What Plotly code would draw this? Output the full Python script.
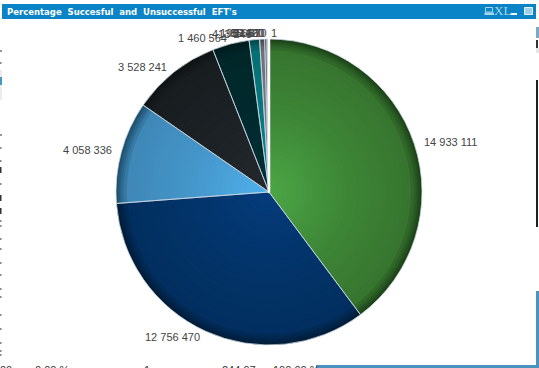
import numpy as np
import plotly.graph_objects as go

W, H = 539, 368
CX, CY, R = 269, 192, 153

title = "Percentage  Succesful  and  Unsuccessful  EFT's"
categories = ["A", "B", "C", "D", "E", "F", "G", "H", "I", "J", "K"]
values = [14933111, 12756470, 4058336, 3528241, 1460564, 413245, 198651, 85420, 52360, 31870, 1]

# per slice colours at pie centre, body and rim
centre_colors = ["#4ca846", "#043c7c", "#50b2ee", "#24292d", "#023038", "#0a8c90", "#8a8a96", "#5a5a62", "#a0a0a8", "#8a7a78", "#ffffff"]
body_colors = ["#37752f", "#022f60", "#3f88b8", "#181e20", "#012729", "#067074", "#70707c", "#4a4a52", "#8c8c94", "#75605c", "#ffffff"]
rim_colors = ["#1c4318", "#011c38", "#1f4f6e", "#0f1314", "#011c1e", "#04484c", "#4a4a52", "#36363c", "#606068", "#503c3a", "#ffffff"]
bottom_texts = [("00", 6), ("0.00 %", 52), ("1", 147), ("244.97", 239), ("100.00 %", 296)]


def rgb(c):
    return np.array([int(c[i:i + 2], 16) for i in (1, 3, 5)], float)


def mix(a, b, t):
    m = rgb(a) * (1 - t) + rgb(b) * t
    return "#%02x%02x%02x" % tuple(int(round(k)) for k in m)


def px_x(x):
    return x / W


def px_y(y):
    return 1 - y / H


def dom(r):
    return dict(x=[px_x(CX - r), px_x(CX + r)], y=[px_y(CY + r), px_y(CY - r)])


fig = go.Figure()
# shaded pie: stacked pies, outer (rim) to inner (centre)
radii = [R, R - 2, R - 4, R - 6, R - 8, R - 11, R - 15] + list(range(R - 20, 0, -5))
for r in radii:
    f = r / R
    if f > 0.93:
        t = (1 - f) / 0.07
        cols = [mix(a, b, t) for a, b in zip(rim_colors, body_colors)]
    elif f > 0.5:
        t = (0.93 - f) / 0.43
        cols = [mix(b, mix(b, c, 0.35), t) for b, c in zip(body_colors, centre_colors)]
    else:
        t = (0.5 - f) / 0.5
        cols = [mix(mix(b, c, 0.35), c, t) for b, c in zip(body_colors, centre_colors)]
    fig.add_trace(go.Pie(labels=categories, values=values, sort=False, direction="clockwise",
                         rotation=0, domain=dom(r), textinfo="none", hoverinfo="skip",
                         marker=dict(colors=cols, line=dict(width=0)), showlegend=False))
# slice separators
widths = [1] * (len(values) - 1) + [2.5]
seps = ["rgba(205,218,228,0.75)"] * (len(values) - 1) + ["#ffffff"]
fig.add_trace(go.Pie(labels=categories, values=values, sort=False, direction="clockwise",
                     rotation=0, domain=dom(R), textinfo="none", hoverinfo="skip",
                     marker=dict(colors=["rgba(0,0,0,0)"] * len(values), line=dict(width=widths, color=seps)),
                     showlegend=False))

ann = []
# slice value labels
v = np.array(values, float)
mid = (np.cumsum(v) - v / 2) / v.sum() * 2 * np.pi
for val, a in zip(values, mid):
    x = CX + (R + 8) * np.sin(a)
    y = CY - (R + 6) * np.cos(a)
    ann.append(dict(x=px_x(x), y=px_y(y), xref="paper", yref="paper", showarrow=False,
                    text=f"{val:,}".replace(",", " "), xanchor="left" if np.sin(a) > 0 or val == 1 else "right",
                    yanchor="middle", font=dict(family="Liberation Sans", size=11, color="#444444")))
# title bar text
ann.append(dict(x=px_x(5), y=px_y(11.5), xref="paper", yref="paper", showarrow=False, text=title,
                xanchor="left", yanchor="middle", xshift=0,
                font=dict(family="DejaVu Sans", size=8.5, color="#ffffff", weight="bold")))
ann.append(dict(x=px_x(502.5), y=px_y(11), xref="paper", yref="paper", showarrow=False, text="XL",
                xanchor="center", yanchor="middle", font=dict(family="Liberation Sans Narrow", size=13, color="#a8d4ec")))
# cropped table row below the object
for txt, x in bottom_texts:
    ann.append(dict(x=px_x(x), y=px_y(362), xref="paper", yref="paper", showarrow=False, text=txt,
                    xanchor="center", yanchor="top", font=dict(family="Liberation Sans", size=11, color="#333333")))


def rect(x0, y0, x1, y1, fill, line=None):
    return dict(type="rect", xref="paper", yref="paper", x0=px_x(x0), x1=px_x(x1), y0=px_y(y1), y1=px_y(y0),
                fillcolor=fill, line=dict(width=1 if line else 0, color=line or fill), layer="below")


shapes = [
    rect(2, 4, 536, 19, "#0a84c6"),
    rect(511, 13, 517, 15, "#ffffff"),
    rect(524.5, 7.5, 532.5, 14.5, "#9fd0ea", "#e8f4fa"),
    rect(485.5, 7.5, 492.5, 12, "#0a84c6", "#a8d4ec"),
    rect(484.5, 12.5, 494, 15, "#a8d4ec"),
    rect(536, 27, 539, 38, "#7ba9c4"),
    rect(536, 40, 538, 48, "#333333"),
    rect(536, 48, 539, 53, "#e6e6e6"),
    rect(536, 80, 538, 227, "#1a1f20"),
    rect(536, 291, 539, 368, "#4a93bf"),
    rect(316, 365, 539, 368, "#4a93bf"),
    rect(0, 70, 2, 100, "#ececec"),
    rect(0, 77, 2, 85, "#4a97c4"),
    rect(0, 50, 2, 52, "#999999"),
    rect(0, 134, 2, 136, "#999999"),
]
for y in (167, 195, 208):
    shapes.append(rect(0, y, 1.5, y + 6, "#333333"))
for y in (62, 147, 160, 183, 220, 225, 238, 248, 262, 274, 288, 296, 314, 328, 342, 350, 354):
    shapes.append(rect(0, y, 1.5, y + 2, "#888888"))

fig.update_layout(width=W, height=H, margin=dict(l=0, r=0, t=0, b=0), autosize=False,
                  paper_bgcolor="#ffffff", plot_bgcolor="#ffffff", showlegend=False,
                  annotations=ann, shapes=shapes)

fig.write_html("out.html", config=dict(displayModeBar=False),
               post_script="document.body.style.margin='0';document.body.style.overflow='hidden';")
